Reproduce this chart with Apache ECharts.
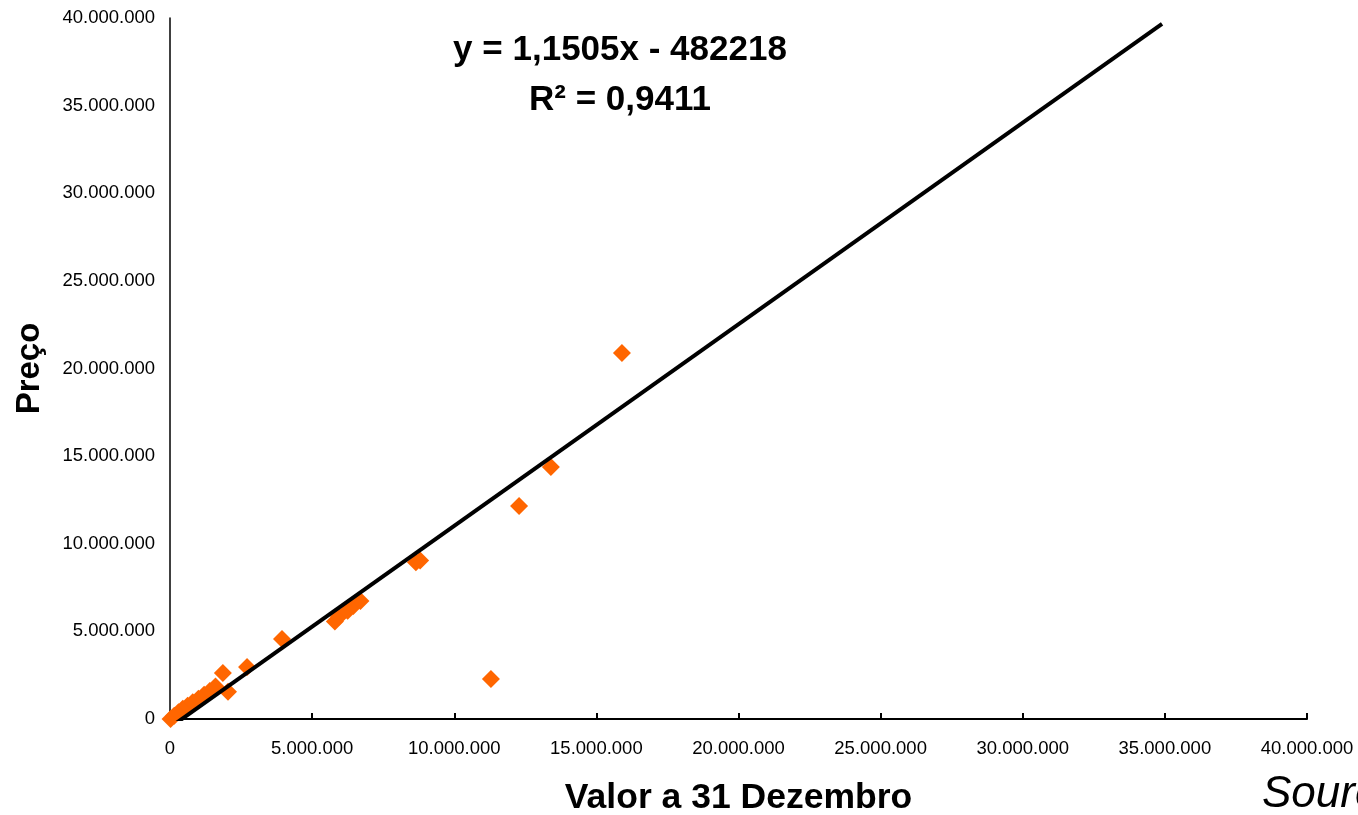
<!DOCTYPE html>
<html>
<head>
<meta charset="utf-8">
<script src="https://cdn.jsdelivr.net/npm/echarts@6/dist/echarts.min.js"></script>
<style>
html,body{margin:0;padding:0;background:#fff;overflow:hidden;}
#chart{width:1358px;height:815px;}
</style>
</head>
<body>
<div id="chart"></div>
<script>
// Data
var valorX = [20000, 150000, 300000, 450000, 620000, 800000, 1000000, 1200000, 1400000, 1600000,
  1860000, 2040000, 2710000, 3940000, 5800000, 5950000, 6250000, 6450000, 6700000,
  8650000, 8800000, 11290000, 12280000, 13400000, 15900000];
var precoY = [0, 180000, 380000, 580000, 750000, 950000, 1150000, 1380000, 1600000, 1850000,
  2620000, 1550000, 2970000, 4560000, 5560000, 5850000, 6180000, 6450000, 6730000,
  8950000, 9050000, 2280000, 12150000, 14380000, 20880000];
var xTicks = [0, 5000000, 10000000, 15000000, 20000000, 25000000, 30000000, 35000000, 40000000];
var yTicks = [0, 5000000, 10000000, 15000000, 20000000, 25000000, 30000000, 35000000, 40000000];
var trendSlope = 1.1505;
var trendIntercept = -482218;
var trendXRange = [0, 34900000];

var points = valorX.map(function (x, i) { return [x, precoY[i]]; });
var trendLine = trendXRange.map(function (x) { return [x, trendSlope * x + trendIntercept]; });

function fmt(v) {
  return String(Math.round(v)).replace(/\B(?=(\d{3})+(?!\d))/g, '.');
}

var chart = echarts.init(document.getElementById('chart'), null, { width: 1358, height: 815 });
chart.setOption({
  backgroundColor: '#fff',
  animation: false,
  grid: { left: 170, width: 1137, top: 18, height: 701, containLabel: false, outerBoundsMode: 'none' },
  xAxis: {
    type: 'value', min: xTicks[0], max: xTicks[xTicks.length - 1], interval: 5000000,
    splitLine: { show: false },
    axisLine: { show: true, lineStyle: { color: '#000', width: 2 } },
    axisTick: { show: true, inside: true, length: 6, lineStyle: { color: '#000', width: 2 } },
    axisLabel: { formatter: fmt, color: '#000', fontFamily: 'Liberation Sans, Arial', fontSize: 18.5, margin: 20 },
    name: 'Valor a 31 Dezembro', nameLocation: 'middle', nameGap: 61,
    nameTextStyle: { color: '#000', fontFamily: 'Liberation Sans, Arial', fontWeight: 'bold', fontSize: 35.5 }
  },
  yAxis: {
    type: 'value', min: yTicks[0], max: yTicks[yTicks.length - 1], interval: 5000000,
    splitLine: { show: false },
    axisLine: { show: true, lineStyle: { color: '#000', width: 1.5 } },
    axisTick: { show: false },
    axisLabel: { formatter: fmt, color: '#000', fontFamily: 'Liberation Sans, Arial', fontSize: 18.5, margin: 15 },
    name: 'Preço', nameLocation: 'middle', nameGap: 124, nameRotate: 90,
    nameTextStyle: { color: '#000', fontFamily: 'Liberation Sans, Arial', fontWeight: 'bold', fontSize: 33 }
  },
  series: [
    {
      type: 'line', data: trendLine, symbol: 'none', clip: true, z: 3,
      lineStyle: { color: '#000', width: 4 }
    },
    {
      type: 'scatter', data: points, symbol: 'diamond', symbolSize: 18, z: 2,
      itemStyle: { color: '#FF6600', opacity: 1 }
    }
  ],
  graphic: [
    {
      type: 'text',
      style: {
        text: 'y = 1,1505x - 482218', textAlign: 'center', textVerticalAlign: 'middle',
        fill: '#000', font: 'bold 35px "Liberation Sans", Arial'
      },
      position: [620, 50]
    },
    {
      type: 'text',
      style: {
        text: 'R² = 0,9411', textAlign: 'center', textVerticalAlign: 'middle',
        fill: '#000', font: 'bold 35px "Liberation Sans", Arial'
      },
      position: [620, 100]
    },
    {
      type: 'text',
      style: {
        text: 'Source', textAlign: 'left', textVerticalAlign: 'middle',
        fill: '#000', font: 'italic 44px "Liberation Sans", Arial'
      },
      position: [1262, 795]
    }
  ]
});
</script>
</body>
</html>
